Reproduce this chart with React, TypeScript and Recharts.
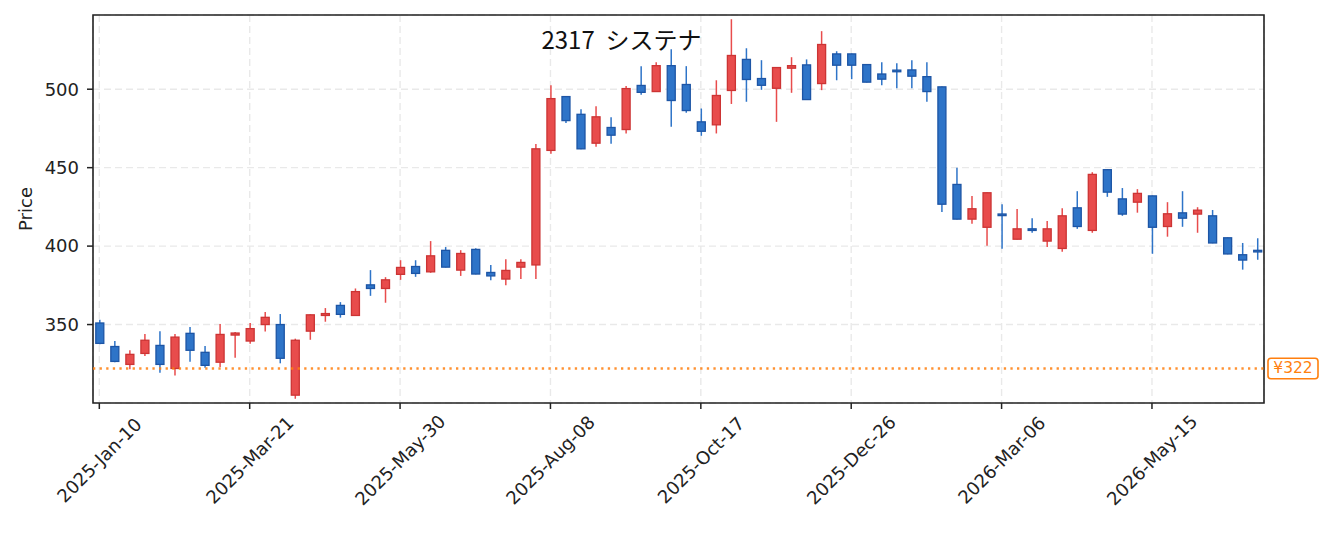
import React from 'react';
import {
  ComposedChart,
  Bar,
  XAxis,
  YAxis,
  CartesianGrid,
  ReferenceLine,
  ReferenceArea,
  Label,
} from 'recharts';

// Weekly OHLC values, week 0 = 2025-Jan-10
const opens = [
  351, 336, 324.6, 331.6, 336.7, 322, 344.4, 332.3, 326, 343.3,
  339.5, 350, 350, 305, 345.8, 355.8, 362.2, 355.8, 375.3, 373,
  382, 387, 383.6, 397.3, 384.7, 397.9, 383.2, 379, 386.6, 388,
  461, 495.3, 484, 465.6, 475.6, 474.3, 502.4, 498.5, 515, 503,
  479.2, 477.3, 499.2, 519, 506.8, 500.6, 513.4, 515.5, 503.6, 522.5,
  522.5, 515.7, 509.7, 512, 512.3, 508, 501.5, 439.3, 417.2, 412,
  420.3, 404.4, 411, 403.2, 398.5, 424.4, 410, 448.7, 430.1, 428,
  432, 412.5, 421.2, 420.4, 419.3, 405.3, 394.5, 397.3,
];
const highs = [
  353, 339.5, 333.7, 344, 345.8, 344, 348.4, 336.3, 350.3, 345.2,
  351, 358, 356.7, 341, 356.5, 360.5, 364.3, 373, 384.7, 380.2,
  391, 391, 403.2, 399.4, 397.4, 398.6, 388, 391.7, 391.7, 465,
  502.5, 495.5, 487.3, 489.2, 482.2, 502, 514.7, 517.2, 525.5, 514.7,
  487.7, 505.7, 544.6, 526.1, 518.5, 514, 520.4, 519, 537, 524.2,
  522.7, 515.9, 517.2, 516.6, 518.5, 517.2, 501.7, 450, 432, 434.2,
  426.7, 423.6, 417.8, 416, 424.2, 435, 447.1, 449, 437, 436.3,
  432.2, 428, 435, 424.8, 423, 405.5, 402, 405,
];
const lows = [
  337.5, 326, 321.5, 330, 319.3, 317.5, 326.3, 322.5, 323, 328.8,
  337.8, 345.5, 325.3, 302.7, 340.3, 351.8, 354.4, 355.5, 368.3, 363.9,
  378.5, 380.4, 383, 386.4, 381, 382, 378.3, 375, 379, 379,
  458.8, 478.5, 461.8, 463.3, 465.2, 471.8, 496.4, 498.3, 476, 485,
  470.3, 471.8, 490.6, 492, 499.6, 479.2, 497.7, 493.2, 499.4, 505.7,
  506.4, 504.3, 502.5, 500.6, 500.6, 492, 421.8, 417, 414.2, 400.2,
  398.3, 404.2, 408.5, 399.5, 396.4, 411, 408.5, 431.4, 419.3, 421.3,
  395.1, 406, 412.3, 408.5, 401.8, 394.8, 385, 391.3,
];
const closes = [
  338, 326.5, 331, 340, 324.6, 342, 333.6, 324, 343.7, 344.6,
  347.4, 354.6, 328.5, 340, 356.2, 357, 356.5, 371, 373, 378.5,
  386.4, 382.6, 393.8, 386.6, 395.3, 382.2, 381, 384.5, 389.6, 462,
  494, 480, 462, 482.4, 470.7, 500.4, 498, 515, 492.8, 486.4,
  473.2, 496, 521.5, 506.2, 502.5, 513.8, 515, 493.4, 528.5, 515.3,
  515.3, 504.5, 506.4, 511.3, 508.3, 498.5, 426.7, 417.2, 423.8, 434,
  419.6, 411, 410, 411, 419.3, 412.5, 445.7, 434.4, 420.4, 433.6,
  412, 420.6, 417.8, 422.9, 402, 395, 391.1, 396.3,
];

const tickIdx = [0, 10, 20, 30, 40, 50, 60, 70];
const tickLabels = [
  '2025-Jan-10', '2025-Mar-21', '2025-May-30', '2025-Aug-08',
  '2025-Oct-17', '2025-Dec-26', '2026-Mar-06', '2026-May-15',
];
const yTicks = [350, 400, 450, 500];
const lastPrice = 322;
const title = '2317  システナ';

const xDomain: [number, number] = [-0.42, 77.45];
const yDomain: [number, number] = [300, 547.3];

const data = opens.map((o, i) => ({ i, o, h: highs[i], l: lows[i], c: closes[i] }));

const FONT = '"DejaVu Sans", "Noto Sans CJK JP", sans-serif';
const TITLE_FONT = '"Noto Sans CJK JP", "DejaVu Sans", sans-serif';
const UP_FILL = '#e84c4c';
const UP_EDGE = '#cc3434';
const DOWN_FILL = '#2e74c8';
const DOWN_EDGE = '#1d55a5';

const Candle = (props: any) => {
  const { x, width, payload } = props;
  let { y, height } = props;
  if (height < 0) {
    y = y + height;
    height = -height;
  }
  const { o, h, l, c } = payload;
  const k = h - l > 0 ? height / (h - l) : 0;
  const yOf = (v: number) => y + (h - v) * k;
  const up = c >= o;
  const cx = x + width / 2;
  const top = yOf(Math.max(o, c));
  const bot = yOf(Math.min(o, c));
  const bodyH = Math.max(bot - top, 1.6);
  return (
    <g>
      <line x1={cx} x2={cx} y1={yOf(h)} y2={yOf(l)} stroke={up ? UP_FILL : DOWN_FILL} strokeWidth={1.5} />
      <rect
        x={x}
        y={top - (bodyH - (bot - top)) / 2}
        width={width}
        height={bodyH}
        fill={up ? UP_FILL : DOWN_FILL}
        stroke={up ? UP_EDGE : DOWN_EDGE}
        strokeWidth={1.3}
      />
    </g>
  );
};

const XTick = (props: any) => {
  const { x, y, payload } = props;
  const idx = tickIdx.indexOf(payload.value);
  const label = idx >= 0 ? tickLabels[idx] : '';
  const cy = y + 49;
  return (
    <text
      x={x}
      y={cy}
      transform={`rotate(-45, ${x}, ${cy})`}
      textAnchor="middle"
      dominantBaseline="central"
      fontSize={18}
      fill="#222"
      fontFamily={FONT}
    >
      {label}
    </text>
  );
};

const PriceLabel = (props: any) => {
  const vb = props.viewBox || {};
  const x = (vb.x || 0) + 17;
  const y = (vb.y || 0) + (vb.height || 0) / 2;
  return (
    <text
      x={x}
      y={y}
      transform={`rotate(-90, ${x}, ${y})`}
      textAnchor="middle"
      dominantBaseline="central"
      fontSize={18}
      fill="#222"
      fontFamily={FONT}
    >
      Price
    </text>
  );
};

const PriceTag = (props: any) => {
  const vb = props.viewBox || {};
  const x0 = (vb.x || 0) + (vb.width || 0) + 4;
  const y0 = vb.y || 0;
  return (
    <g>
      <rect x={x0} y={y0 - 10.3} width={50} height={20.6} rx={3} ry={3} fill="#fff" stroke="#ff7f0e" strokeWidth={1.6} />
      <text
        x={x0 + 25}
        y={y0}
        textAnchor="middle"
        dominantBaseline="central"
        fontSize={15.5}
        fill="#ff7f0e"
        fontFamily={FONT}
      >
        {`¥${lastPrice}`}
      </text>
    </g>
  );
};

export default function App() {
  return (
    <div style={{ position: 'relative', width: 1313, height: 517, fontFamily: FONT }}>
      <ComposedChart
        width={1313}
        height={517}
        data={data}
        margin={{ top: 7, right: 57, left: 0, bottom: 0 }}
      >
        <CartesianGrid stroke="#e9e9e9" strokeWidth={1.4} strokeDasharray="7 4" />
        <XAxis
          dataKey="i"
          type="number"
          domain={xDomain}
          allowDataOverflow
          ticks={tickIdx}
          interval={0}
          height={122}
          axisLine={false}
          tickSize={6}
          tickLine={{ stroke: '#222', strokeWidth: 1.5 }}
          tick={<XTick />}
        />
        <YAxis
          type="number"
          domain={yDomain}
          allowDataOverflow
          ticks={yTicks}
          width={85}
          axisLine={false}
          tickSize={6}
          tickMargin={8}
          tickLine={{ stroke: '#222', strokeWidth: 1.5 }}
          tick={{ fontSize: 18, fill: '#222', fontFamily: FONT }}
        >
          <Label content={<PriceLabel />} />
        </YAxis>
        <Bar
          dataKey={(d: any) => [d.l, d.h]}
          barSize={8}
          shape={<Candle />}
          isAnimationActive={false}
        />
        <ReferenceLine
          y={lastPrice}
          stroke="#ff7f0e"
          strokeOpacity={0.85}
          strokeWidth={2.3}
          strokeDasharray="2.3 4.3"
          label={<PriceTag />}
        />
        <ReferenceArea
          x1={xDomain[0]}
          x2={xDomain[1]}
          y1={yDomain[0]}
          y2={yDomain[1]}
          fill="none"
          stroke="#222"
          strokeWidth={1.6}
          ifOverflow="visible"
        />
      </ComposedChart>
      <svg
        width={1313}
        height={517}
        style={{ position: 'absolute', left: 0, top: 0, pointerEvents: 'none' }}
      >
        <text x={613.5} y={40.5} textAnchor="middle" fontSize={24} fill="#111" fontFamily={TITLE_FONT} style={{ whiteSpace: 'pre' }}>
          {title}
        </text>
      </svg>
    </div>
  );
}
